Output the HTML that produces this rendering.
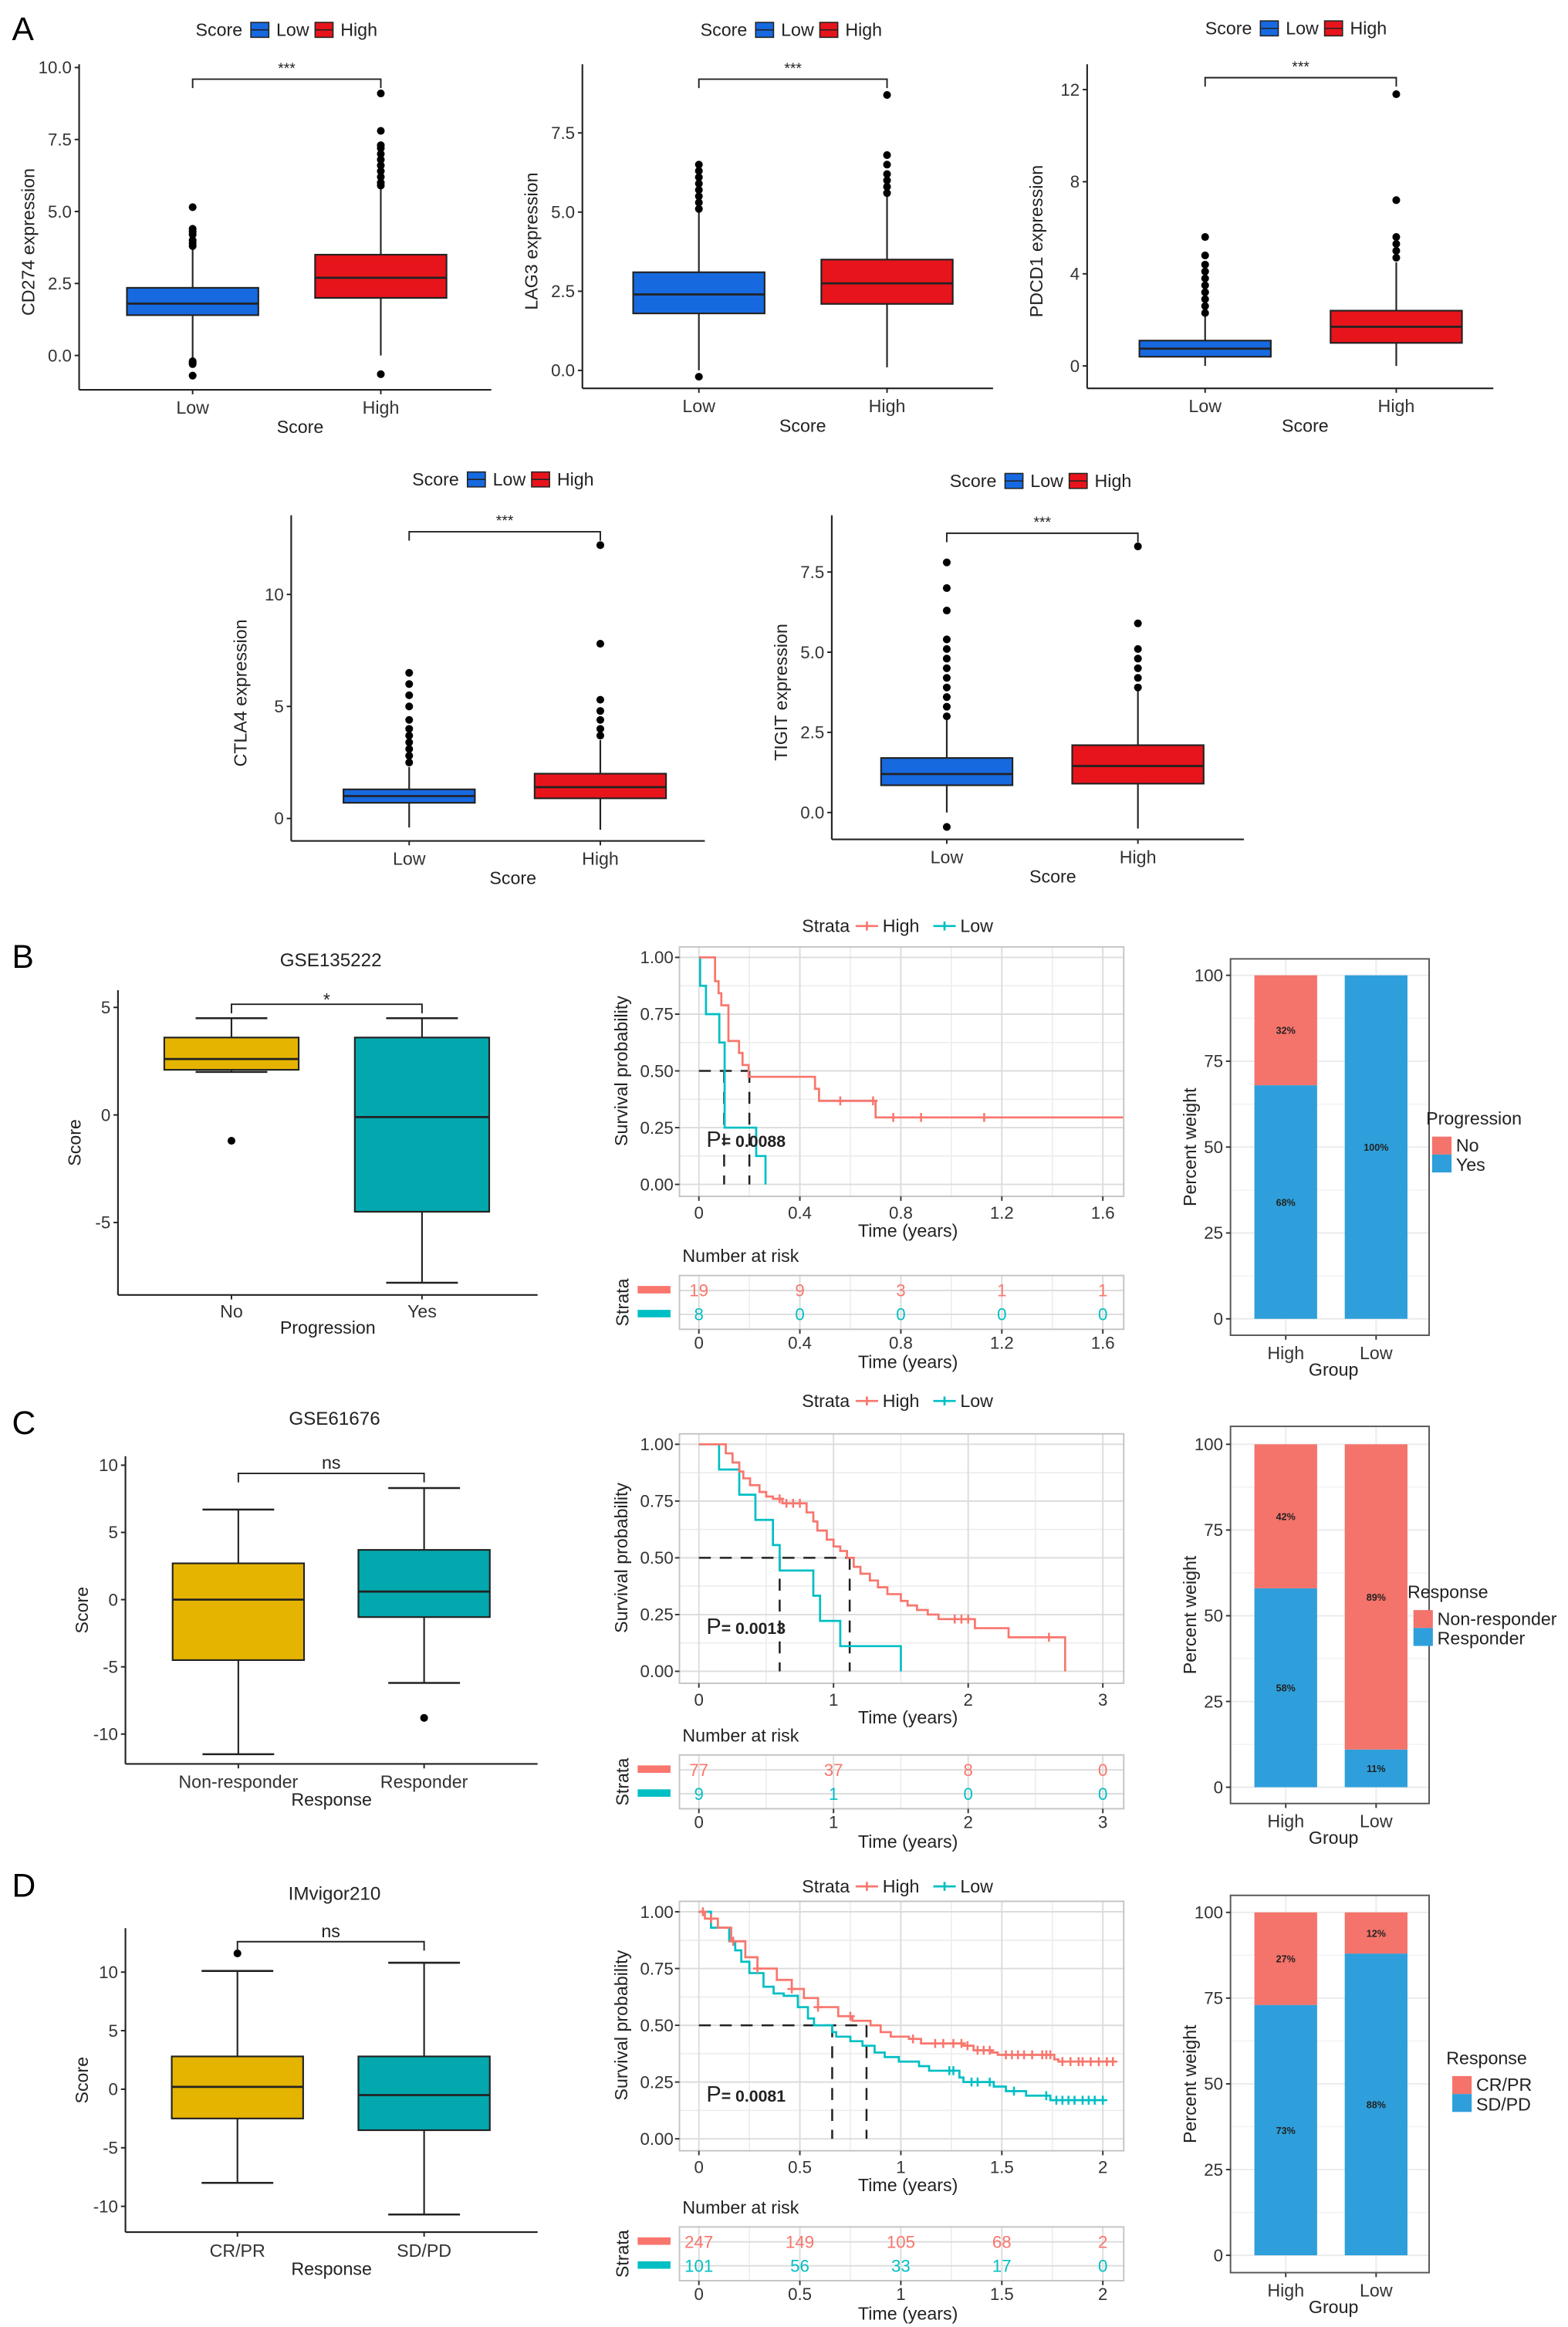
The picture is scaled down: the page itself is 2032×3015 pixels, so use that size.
<!DOCTYPE html>
<html><head><meta charset="utf-8"><style>
html,body{margin:0;padding:0;background:#fff}
svg{display:block}
text{font-family:"Liberation Sans",Arial,sans-serif}
</style></head><body>
<svg id="fig" xmlns="http://www.w3.org/2000/svg" width="2032" height="3015" viewBox="0 0 1050 1558" preserveAspectRatio="none">
<rect x="0" y="0" width="1050" height="1558" fill="#fff"/>
<text x="8" y="27" font-size="22" fill="#000">A</text>
<text x="8" y="648" font-size="22" fill="#000">B</text>
<text x="8" y="960" font-size="22" fill="#000">C</text>
<text x="8" y="1270" font-size="22" fill="#000">D</text>
</svg>
<script>
// ---------- DATA ----------
const genes=['CD274','LAG3','PDCD1','CTLA4','TIGIT'];
const groupsA=['Low','High'];
// [lowerWhisker,q1,median,q3,upperWhisker]
const lowStats=[[-0.1,1.4,1.8,2.35,3.7],[0.0,1.8,2.4,3.1,5.0],[0,0.4,0.75,1.1,2.2],[-0.4,0.7,1.0,1.3,2.3],[0.0,0.85,1.2,1.7,2.9]];
const highStats=[[0.0,2.0,2.7,3.5,5.8],[0.1,2.1,2.75,3.5,5.5],[0,1.0,1.7,2.4,4.5],[-0.5,0.9,1.4,2.0,3.5],[-0.5,0.9,1.45,2.1,3.8]];
const lowOut=[[5.15,4.4,4.3,4.2,4.0,3.9,3.8,-0.2,-0.25,-0.3,-0.7],[5.1,5.3,5.5,5.7,5.9,6.1,6.3,6.5,-0.2],[2.3,2.6,2.9,3.2,3.5,3.8,4.1,4.4,4.8,5.6],[2.5,2.8,3.1,3.4,3.7,4.0,4.4,5.0,5.5,6.0,6.5],[3.0,3.3,3.6,3.9,4.2,4.5,4.8,5.1,5.4,6.3,7.0,7.8,-0.45]];
const highOut=[[5.9,6.0,6.2,6.4,6.6,6.8,7.0,7.2,7.3,7.8,9.1,-0.65],[5.6,5.8,6.0,6.2,6.5,6.8,8.7],[4.7,5.0,5.3,5.6,7.2,11.8],[3.7,4.0,4.4,4.8,5.3,7.8,12.2],[3.9,4.2,4.5,4.8,5.1,5.9,8.3]];
const aTicks=[[0,2.5,5,7.5,10],[0,2.5,5,7.5],[0,4,8,12],[0,5,10],[0,2.5,5,7.5]];
const aTickLabels=[['0.0','2.5','5.0','7.5','10.0'],['0.0','2.5','5.0','7.5'],['0','4','8','12'],['0','5','10'],['0.0','2.5','5.0','7.5']];

const leftTitles=['GSE135222','GSE61676','IMvigor210'];
const leftXTitles=['Progression','Response','Response'];
const leftCats=[['No','Yes'],['Non-responder','Responder'],['CR/PR','SD/PD']];
const leftStats1=[[2.0,2.1,2.6,3.6,4.5],[-11.5,-4.5,0,2.7,6.7],[-8,-2.5,0.2,2.8,10.1]];
const leftStats2=[[-7.8,-4.5,-0.1,3.6,4.5],[-6.2,-1.3,0.6,3.7,8.3],[-10.7,-3.5,-0.5,2.8,10.8]];
const leftOut1=[[-1.2],[],[11.6]];
const leftOut2=[[],[-8.8],[]];
const leftTicks=[[-5,0,5],[-10,-5,0,5,10],[-10,-5,0,5,10]];
const leftSig=['*','ns','ns'];

const kmTicks=[[0,0.4,0.8,1.2,1.6],[0,1,2,3],[0,0.5,1,1.5,2]];
const kmTickLabels=[['0','0.4','0.8','1.2','1.6'],['0','1','2','3'],['0','0.5','1','1.5','2']];
const kmHighT=[[0.064,0.078,0.089,0.117,0.159,0.173,0.197,0.46,0.476,0.70],
 [0.2,0.25,0.3,0.33,0.38,0.45,0.5,0.55,0.62,0.8,0.85,0.88,0.95,1.0,1.05,1.1,1.15,1.2,1.27,1.33,1.4,1.5,1.55,1.62,1.7,1.78,2.05,2.3,2.72],
 [0.03,0.094,0.16,0.23,0.29,0.386,0.46,0.52,0.59,0.69,0.76,0.85,0.9,0.95,1.04,1.1,1.31,1.36,1.45,1.48,1.76,1.78]];
const kmHighS=[[0.895,0.842,0.789,0.632,0.579,0.526,0.474,0.421,0.368,0.295],
 [0.96,0.92,0.88,0.85,0.82,0.79,0.77,0.76,0.74,0.70,0.66,0.62,0.58,0.55,0.53,0.50,0.46,0.43,0.40,0.37,0.34,0.31,0.29,0.27,0.25,0.23,0.19,0.15,0],
 [0.97,0.93,0.87,0.80,0.75,0.70,0.66,0.62,0.58,0.54,0.52,0.50,0.47,0.45,0.44,0.42,0.41,0.39,0.38,0.37,0.35,0.34]];
const kmLowT=[[0.005,0.028,0.081,0.102,0.227,0.264],
 [0.15,0.3,0.42,0.55,0.6,0.85,0.9,1.05,1.5],
 [0.06,0.15,0.18,0.21,0.25,0.32,0.37,0.42,0.49,0.54,0.57,0.66,0.68,0.75,0.81,0.87,0.92,0.99,1.09,1.14,1.29,1.31,1.46,1.52,1.62,1.74]];
const kmLowS=[[0.875,0.75,0.625,0.25,0.125,0],
 [0.889,0.778,0.667,0.556,0.444,0.333,0.222,0.111,0],
 [0.93,0.87,0.83,0.78,0.73,0.67,0.64,0.63,0.58,0.53,0.50,0.47,0.45,0.43,0.41,0.38,0.36,0.34,0.32,0.30,0.27,0.25,0.23,0.21,0.19,0.17]];
const kmHighEnd=[1.68,2.72,2.05];
const kmLowEnd=[0.264,1.5,2.0];
const kmHighCens=[[0.56,0.69,0.77,0.88,1.13],[0.6,0.65,0.7,0.75,1.9,1.95,2.0,2.6],
 [0.02,0.06,0.17,0.29,0.46,0.59,0.75,1.06,1.17,1.21,1.26,1.3,1.33,1.38,1.41,1.44,1.52,1.55,1.58,1.61,1.65,1.7,1.72,1.74,1.8,1.84,1.88,1.9,1.94,1.98,2.02,2.05]];
const kmLowCens=[[],[],[0.17,1.24,1.26,1.35,1.38,1.44,1.56,1.72,1.77,1.8,1.83,1.86,1.9,1.93,1.96,2.0]];
const kmMedians=[[0.1,0.2],[0.6,1.12],[0.66,0.83]];
const kmP=['0.0088','0.0013','0.0081'];
const riskHigh=[[19,9,3,1,1],[77,37,8,0],[247,149,105,68,2]];
const riskLow=[[8,0,0,0,0],[9,1,0,0],[101,56,33,17,0]];

const barGroups=['High','Low'];
const barBlue=[[68,100],[58,11],[73,88]];
const barRed=[[32,0],[42,89],[27,12]];
const barLegendTitle=['Progression','Response','Response'];
const barLegendRed=['No','Non-responder','CR/PR'];
const barLegendBlue=['Yes','Responder','SD/PD'];
const barTicks=[0,25,50,75,100];

// ---------- HELPERS ----------
const NS='http://www.w3.org/2000/svg';
const svg=document.getElementById('fig');
function mk(tag,attrs,name,parent){
  const el=document.createElementNS(NS,tag);
  for(const k in attrs) el.setAttribute(k,attrs[k]);
  
  
  (parent||svg).appendChild(el);
  return el;
}
function T(x,y,s,size,name,opt,parent){
  opt=opt||{};
  const el=mk('text',{x:x,y:y,'font-size':size,fill:opt.fill||'#222','text-anchor':opt.anchor||'middle','font-weight':opt.bold?'bold':'normal'},name,parent);
  if(opt.rot) el.setAttribute('transform','rotate(-90 '+x+' '+y+')');
  el.textContent=s;
  return el;
}
function L(x1,y1,x2,y2,stroke,w,name,parent,dash){
  const a={x1:x1,y1:y1,x2:x2,y2:y2,stroke:stroke,'stroke-width':w};
  if(dash) a['stroke-dasharray']=dash;
  return mk('line',a,name,parent);
}
function drawBox(g,stats,outs,cx,hw,ys,color,name,cap){
  L(cx,ys(stats[0]),cx,ys(stats[4]),'#222',1.1,name+'-whisker',g);
  if(cap){
    L(cx-cap,ys(stats[0]),cx+cap,ys(stats[0]),'#222',1.3,name+'-whisker-cap',g);
    L(cx-cap,ys(stats[4]),cx+cap,ys(stats[4]),'#222',1.3,name+'-whisker-cap',g);
  }
  mk('rect',{x:cx-hw,y:ys(stats[3]),width:2*hw,height:ys(stats[1])-ys(stats[3]),fill:color,stroke:'#222','stroke-width':1.1},name+'-box',g);
  L(cx-hw,ys(stats[2]),cx+hw,ys(stats[2]),'#222',1.4,name+'-median',g);
  outs.forEach(v=>{ mk('circle',{cx:cx,cy:ys(v),r:2.6,fill:'#000'},name+'-outlier',g); });
}

// ---------- PANEL A ----------
const layA=[
 {x0:53,x1:329,top:43,bot:261,v0:238,vr:10,yr:45.2,cL:129,cH:255,leg:192,legY:20,br:53},
 {x0:390,x1:665,top:43,bot:260,v0:248,vr:7.5,yr:89,cL:468,cH:594,leg:530,legY:20,br:53},
 {x0:728,x1:1000,top:43,bot:260,v0:245,vr:12,yr:60,cL:807,cH:935,leg:868,legY:19,br:52},
 {x0:195,x1:472,top:345,bot:563,v0:548,vr:10,yr:398,cL:274,cH:402,leg:337,legY:321,br:356},
 {x0:557,x1:833,top:345,bot:562,v0:544,vr:7.5,yr:383,cL:634,cH:762,leg:697,legY:322,br:357}];
const COL_LOW='#1769e0', COL_HIGH='#e8141b';
genes.forEach((gname,i)=>{
  const P=layA[i];
  const g=mk('g',{},'boxplot-'+gname.toLowerCase());
  const ys=v=>P.v0-v*(P.v0-P.yr)/P.vr;
  const lx=P.leg-61;
  T(lx,P.legY+4,'Score',12,'legend-title',{anchor:'start'},g);
  mk('rect',{x:lx+37,y:P.legY-5,width:12,height:10,fill:COL_LOW,stroke:'#222','stroke-width':0.8},'legend-key-low',g);
  L(lx+37,P.legY,lx+49,P.legY,'#222',0.8,'legend-key-low-median',g);
  T(lx+54,P.legY+4,'Low',12,'legend-label-low',{anchor:'start'},g);
  mk('rect',{x:lx+80,y:P.legY-5,width:12,height:10,fill:COL_HIGH,stroke:'#222','stroke-width':0.8},'legend-key-high',g);
  L(lx+80,P.legY,lx+92,P.legY,'#222',0.8,'legend-key-high-median',g);
  T(lx+97,P.legY+4,'High',12,'legend-label-high',{anchor:'start'},g);
  L(P.x0,P.top,P.x0,P.bot,'#222',1.1,'y-axis-line',g);
  L(P.x0,P.bot,P.x1,P.bot,'#222',1.1,'x-axis-line',g);
  aTicks[i].forEach((v,k)=>{
    L(P.x0-3,ys(v),P.x0,ys(v),'#222',1,'y-tick',g);
    T(P.x0-5,ys(v)+4,aTickLabels[i][k],11.5,'y-tick-label',{anchor:'end',fill:'#333'},g);
  });
  [P.cL,P.cH].forEach((cx,k)=>{
    L(cx,P.bot,cx,P.bot+3,'#222',1,'x-tick',g);
    T(cx,P.bot+16,groupsA[k],12,'x-tick-label',{fill:'#333'},g);
  });
  T((P.x0+P.x1)/2+10,P.bot+29,'Score',12,'x-axis-title',{},g);
  T(P.x0-30,(P.top+P.bot)/2+10,gname+' expression',12,'y-axis-title',{rot:true},g);
  drawBox(g,lowStats[i],lowOut[i],P.cL,44,ys,COL_LOW,'low',0);
  drawBox(g,highStats[i],highOut[i],P.cH,44,ys,COL_HIGH,'high',0);
  mk('path',{d:'M'+P.cL+' '+(P.br+6)+'V'+P.br+'H'+P.cH+'V'+(P.br+6),fill:'none',stroke:'#222','stroke-width':1},'significance-bracket',g);
  T((P.cL+P.cH)/2,P.br-4,'***',10,'significance-label',{},g);
});

// ---------- LEFT BOXPLOTS B/C/D ----------
const layL=[
 {x0:79,x1:360,top:663,bot:867,v0:746.5,vr:5,yr:674.5,c1:155,c2:282.6,hw:45,br:672.4,titleY:647,tickY:882,xtY:893},
 {x0:84,x1:360,top:975,bot:1181,v0:1071,vr:10,yr:981,c1:159.6,c2:284,hw:44,br:986.5,titleY:954,tickY:1197,xtY:1209},
 {x0:84,x1:360,top:1291,bot:1494.5,v0:1398.8,vr:10,yr:1320.4,c1:159,c2:284,hw:44,br:1300,titleY:1272,tickY:1511,xtY:1523}];
const COL_GOLD='#e5b400', COL_TEAL='#02a8ae';
leftTitles.forEach((tt,i)=>{
  const P=layL[i];
  const g=mk('g',{},'score-boxplot-'+tt.toLowerCase());
  const ys=v=>P.v0-v*(P.v0-P.yr)/P.vr;
  T((P.x0+P.x1)/2+2,P.titleY,tt,12.5,'plot-title',{},g);
  L(P.x0,P.top,P.x0,P.bot,'#222',1.1,'y-axis-line',g);
  L(P.x0,P.bot,P.x1,P.bot,'#222',1.1,'x-axis-line',g);
  leftTicks[i].forEach(v=>{
    L(P.x0-3,ys(v),P.x0,ys(v),'#222',1,'y-tick',g);
    T(P.x0-5,ys(v)+4,String(v),11.5,'y-tick-label',{anchor:'end',fill:'#333'},g);
  });
  [P.c1,P.c2].forEach((cx,k)=>{
    L(cx,P.bot,cx,P.bot+3,'#222',1,'x-tick',g);
    T(cx,P.tickY,leftCats[i][k],12,'x-tick-label',{fill:'#333'},g);
  });
  T((P.x0+P.x1)/2,P.xtY,leftXTitles[i],12,'x-axis-title',{},g);
  T(P.x0-25,(P.top+P.bot)/2,'Score',12,'y-axis-title',{rot:true},g);
  drawBox(g,leftStats1[i],leftOut1[i],P.c1,P.hw,ys,COL_GOLD,'group1',24);
  drawBox(g,leftStats2[i],leftOut2[i],P.c2,P.hw,ys,COL_TEAL,'group2',24);
  mk('path',{d:'M'+P.c1+' '+(P.br+6)+'V'+P.br+'H'+P.c2+'V'+(P.br+6),fill:'none',stroke:'#222','stroke-width':1},'significance-bracket',g);
  T((P.c1+P.c2)/2,leftSig[i]==='*'?P.br+1:P.br-3,leftSig[i],12,'significance-label',{},g);
});

// ---------- KM ----------
const shP=[0,326,639], shLg=[0,318,643], shR=[0,321,637];
const COL_KH='#f8766d', COL_KL='#00bfc4';
function stepVal(T_,S_,t){let v=1;for(let k=0;k<T_.length;k++){if(T_[k]<=t)v=S_[k];}return v;}
kmTicks.forEach((ticks,i)=>{
  const sh=shP[i];
  const g=mk('g',{},'km-plot-'+(i+1));
  const X0=455,X1=752.5,top=634+sh,bot=801+sh,y1=641+sh,y0=793+sh;
  const tmax=ticks[ticks.length-1];
  const xs=t=>468+t*(738.5-468)/tmax;
  const ys=s=>y0-s*(y0-y1);
  const ly=620+shLg[i];
  T(537,ly+4,'Strata',12,'legend-title',{anchor:'start'},g);
  L(573,ly,588,ly,COL_KH,1.4,'legend-line-high',g);
  L(580.5,ly-3,580.5,ly+3,COL_KH,1.4,'legend-cross-high',g);
  T(591,ly+4,'High',12,'legend-label-high',{anchor:'start'},g);
  L(625,ly,640,ly,COL_KL,1.4,'legend-line-low',g);
  L(632.5,ly-3,632.5,ly+3,COL_KL,1.4,'legend-cross-low',g);
  T(643,ly+4,'Low',12,'legend-label-low',{anchor:'start'},g);
  const step=ticks[1]-ticks[0];
  for(let t=step/2;xs(t)<X1;t+=step){ L(xs(t),top,xs(t),bot,'#ececec',0.8,'grid-minor-x',g); }
  [0.125,0.375,0.625,0.875].forEach(s=>{ L(X0,ys(s),X1,ys(s),'#ececec',0.8,'grid-minor-y',g); });
  ticks.forEach(t=>{ L(xs(t),top,xs(t),bot,'#dcdcdc',1,'grid-major-x',g); });
  [0,0.25,0.5,0.75,1].forEach(s=>{ L(X0,ys(s),X1,ys(s),'#dcdcdc',1,'grid-major-y',g); });
  mk('rect',{x:X0,y:top,width:X1-X0,height:bot-top,fill:'none',stroke:'#c4c4c4','stroke-width':1},'plot-frame',g);
  ['0.00','0.25','0.50','0.75','1.00'].forEach((lab,k)=>{
    const s=k*0.25;
    L(X0-3,ys(s),X0,ys(s),'#333',1,'y-tick',g);
    T(X0-4,ys(s)+4,lab,11.5,'y-tick-label',{anchor:'end',fill:'#333'},g);
  });
  ticks.forEach((t,k)=>{
    L(xs(t),bot,xs(t),bot+3,'#333',1,'x-tick',g);
    T(xs(t),bot+15,kmTickLabels[i][k],11.5,'x-tick-label',{fill:'#333'},g);
  });
  T(608,bot+27,'Time (years)',12,'x-axis-title',{},g);
  T(420,(y0+y1)/2,'Survival probability',12,'y-axis-title',{rot:true},g);
  function curve(Tt,Ss,end,col,nm,cens){
    let d='M'+xs(0)+' '+ys(1);
    Tt.forEach((t,k)=>{ d+='H'+xs(t)+'V'+ys(Ss[k]); });
    d+='H'+xs(end);
    mk('path',{d:d,fill:'none',stroke:col,'stroke-width':1.4},nm,g);
    cens.forEach(t=>{
      const v=stepVal(Tt,Ss,t);
      L(xs(t),ys(v)-3,xs(t),ys(v)+3,col,1.3,nm+'-censor',g);
      L(xs(t)-3,ys(v),xs(t)+3,ys(v),col,1.3,nm+'-censor',g);
    });
  }
  const meds=kmMedians[i];
  L(xs(0),ys(0.5),xs(Math.max(...meds)),ys(0.5),'#222',1.3,'median-line-h',g,'8,6');
  meds.forEach(m=>{ L(xs(m),ys(0.5),xs(m),ys(0),'#222',1.3,'median-line-v',g,'8,6'); });
  curve(kmLowT[i],kmLowS[i],kmLowEnd[i],COL_KL,'survival-curve-low',kmLowCens[i]);
  curve(kmHighT[i],kmHighS[i],kmHighEnd[i],COL_KH,'survival-curve-high',kmHighCens[i]);
  const pt=T(473,768+sh,'P',15,'p-value',{anchor:'start'},g);
  const ps=mk('tspan',{'font-size':11,'font-weight':'bold'},'p-value-number',pt);
  ps.textContent='= '+kmP[i];
  const rs=shR[i];
  const rt=854+rs,rb=890+rs,r1=864+rs,r2=880+rs;
  T(457,845+rs,'Number at risk',12,'risk-table-title',{anchor:'start'},g);
  for(let t=step/2;xs(t)<X1;t+=step){ L(xs(t),rt,xs(t),rb,'#ececec',0.8,'risk-grid-minor',g); }
  ticks.forEach(t=>{ L(xs(t),rt,xs(t),rb,'#dcdcdc',1,'risk-grid-major',g); });
  L(X0,r1,X1,r1,'#dcdcdc',1,'risk-grid-row',g);
  L(X0,r2,X1,r2,'#dcdcdc',1,'risk-grid-row',g);
  mk('rect',{x:X0,y:rt,width:X1-X0,height:rb-rt,fill:'none',stroke:'#c4c4c4','stroke-width':1},'risk-table-frame',g);
  mk('rect',{x:427,y:r1-3,width:22,height:5,fill:COL_KH},'risk-strata-key-high',g);
  mk('rect',{x:427,y:r2-3,width:22,height:5,fill:COL_KL},'risk-strata-key-low',g);
  T(421,(rt+rb)/2,'Strata',12,'risk-y-title',{rot:true},g);
  ticks.forEach((t,k)=>{
    T(xs(t),r1+4,String(riskHigh[i][k]),11.5,'risk-count-high',{fill:COL_KH},g);
    T(xs(t),r2+4,String(riskLow[i][k]),11.5,'risk-count-low',{fill:COL_KL},g);
    L(xs(t),rb,xs(t),rb+3,'#333',1,'risk-x-tick',g);
    T(xs(t),rb+13,kmTickLabels[i][k],11.5,'risk-x-tick-label',{fill:'#333'},g);
  });
  T(608,rb+26,'Time (years)',12,'risk-x-axis-title',{},g);
});

// ---------- BAR CHARTS ----------
const layB=[{top:642,bot:894,y100:653,y0:883,legX:955,legY:753},
 {top:955,bot:1207.5,y100:967,y0:1196.6,legX:942.5,legY:1070},
 {top:1269,bot:1521.6,y100:1280.4,y0:1510,legX:968.5,legY:1382}];
const COL_BR='#f4736a', COL_BB='#2e9fdb';
barBlue.forEach((blue,i)=>{
  const P=layB[i];
  const g=mk('g',{},'percent-bar-chart-'+(i+1));
  const X0=824,X1=957;
  const ys=v=>P.y0-v*(P.y0-P.y100)/100;
  const bx=[840,900.5], bw=42;
  [12.5,37.5,62.5,87.5].forEach(v=>{ L(X0,ys(v),X1,ys(v),'#f3f3f3',0.8,'grid-minor-y',g); });
  barTicks.forEach(v=>{ L(X0,ys(v),X1,ys(v),'#ebebeb',1,'grid-major-y',g); });
  bx.forEach(x=>{ L(x+bw/2,P.top,x+bw/2,P.bot,'#ebebeb',1,'grid-major-x',g); });
  barGroups.forEach((grp,k)=>{
    const b=blue[k], r=barRed[i][k];
    mk('rect',{x:bx[k],y:ys(b),width:bw,height:ys(0)-ys(b),fill:COL_BB},'bar-'+grp.toLowerCase()+'-blue',g);
    mk('rect',{x:bx[k],y:ys(b+r),width:bw,height:ys(b)-ys(b+r),fill:COL_BR},'bar-'+grp.toLowerCase()+'-red',g);
    if(b>0) T(bx[k]+bw/2,ys(b/2)+2.5,b+'%',6.5,'bar-label',{bold:true},g);
    if(r>0) T(bx[k]+bw/2,ys(b+r/2)+2.5,r+'%',6.5,'bar-label',{bold:true},g);
    L(bx[k]+bw/2,P.bot,bx[k]+bw/2,P.bot+3,'#333',1,'x-tick',g);
    T(bx[k]+bw/2,P.bot+16,grp,12,'x-tick-label',{fill:'#333'},g);
  });
  mk('rect',{x:X0,y:P.top,width:X1-X0,height:P.bot-P.top,fill:'none',stroke:'#555','stroke-width':1},'plot-frame',g);
  barTicks.forEach(v=>{
    L(X0-3,ys(v),X0,ys(v),'#333',1,'y-tick',g);
    T(X0-5,ys(v)+4,String(v),11.5,'y-tick-label',{anchor:'end',fill:'#333'},g);
  });
  T(893,P.bot+27,'Group',12,'x-axis-title',{},g);
  T(801,(P.top+P.bot)/2,'Percent weight',12,'y-axis-title',{rot:true},g);
  T(P.legX,P.legY,barLegendTitle[i],12,'legend-title',{anchor:'start'},g);
  mk('rect',{x:P.legX+4,y:P.legY+8,width:13,height:12,fill:COL_BR},'legend-key-red',g);
  T(P.legX+20,P.legY+18,barLegendRed[i],12,'legend-label-red',{anchor:'start'},g);
  mk('rect',{x:P.legX+4,y:P.legY+20,width:13,height:12,fill:COL_BB},'legend-key-blue',g);
  T(P.legX+20,P.legY+31,barLegendBlue[i],12,'legend-label-blue',{anchor:'start'},g);
});
</script>
</body></html>
